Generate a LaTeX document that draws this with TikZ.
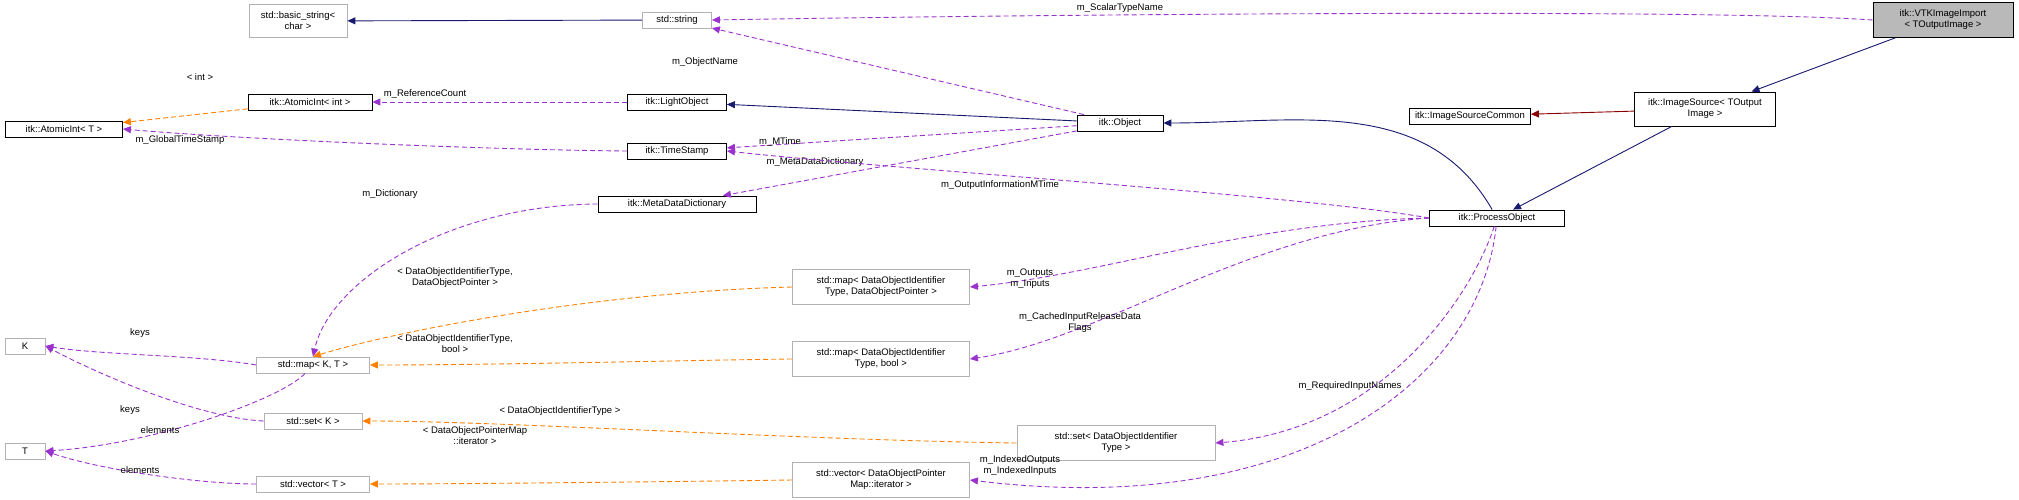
\documentclass[tikz,border=0pt]{standalone}
\usepackage{fontspec}
\setmainfont{Liberation Sans}
\usetikzlibrary{arrows.meta}
\begin{document}
\begin{tikzpicture}[x=1pt, y=-1pt, font=\fontsize{9.5}{11}\selectfont,
    box/.style = {draw=black, line width=0.8pt, inner sep=1pt, align=center, minimum height=16pt},
    ext/.style = {box, draw=gray!60},
    inh/.style = {draw={rgb,255:red,25;green,25;blue,112}, line width=0.9pt, -{Triangle[length=8pt,width=7pt]}},
    priv/.style = {draw={rgb,255:red,139;green,0;blue,0}, line width=0.9pt, -{Triangle[length=8pt,width=7pt]}},
    use/.style = {draw={rgb,255:red,154;green,50;blue,205}, dash pattern=on 5pt off 3pt, line width=0.9pt, -{Triangle[length=8pt,width=7pt]}},
    tmpl/.style = {draw=orange, dash pattern=on 5pt off 3pt, line width=0.9pt, -{Triangle[length=8pt,width=7pt]}},
    lbl/.style = {inner sep=1pt, align=center}]
\useasboundingbox (0,0) rectangle (2019,500);
% classes
\node[ext, minimum width=98pt, minimum height=33pt] (basicstring) at (298,21) {std::basic\_string<\\char >};
\node[ext, minimum width=69pt] (string) at (677,20) {std::string};
\node[box, fill=gray!55, minimum width=140pt, minimum height=35pt] (vtk) at (1943,20) {itk::VTKImageImport\\< TOutputImage >};
\node[box, minimum width=124pt] (atomicint) at (310,102) {itk::AtomicInt< int >};
\node[box, minimum width=99pt] (lightobj) at (677,102) {itk::LightObject};
\node[box, minimum width=117pt] (atomicT) at (64,129) {itk::AtomicInt< T >};
\node[box, minimum width=99pt] (timestamp) at (677,151) {itk::TimeStamp};
\node[box, minimum width=86pt] (object) at (1120,123) {itk::Object};
\node[box, minimum width=121pt] (srccommon) at (1470,116) {itk::ImageSourceCommon};
\node[box, minimum width=141pt, minimum height=34pt] (imgsource) at (1705,109) {itk::ImageSource< TOutput\\Image >};
\node[box, minimum width=158pt] (metadict) at (677,204) {itk::MetaDataDictionary};
\node[box, minimum width=135pt] (procobj) at (1497,218) {itk::ProcessObject};
\node[ext, minimum width=177pt, minimum height=35pt] (mapptr) at (881,287) {std::map< DataObjectIdentifier\\Type, DataObjectPointer >};
\node[ext, minimum width=113pt] (mapKT) at (313,365) {std::map< K, T >};
\node[ext, minimum width=40pt] (K) at (25,346) {K};
\node[ext, minimum width=177pt, minimum height=35pt] (mapbool) at (881,359) {std::map< DataObjectIdentifier\\Type, bool >};
\node[ext, minimum width=98pt] (setK) at (313,421) {std::set< K >};
\node[ext, minimum width=198pt, minimum height=35pt] (setid) at (1116,443) {std::set< DataObjectIdentifier\\Type >};
\node[ext, minimum width=40pt] (T) at (25,451) {T};
\node[ext, minimum width=113pt] (vecT) at (313,484) {std::vector< T >};
\node[ext, minimum width=177pt, minimum height=35pt] (vecmap) at (881,480) {std::vector< DataObjectPointer\\Map::iterator >};
% inheritance
\draw[inh] (string) -- (basicstring);
\draw[inh] (vtk) -- (imgsource);
\draw[priv] (imgsource) -- (srccommon);
\draw[inh] (imgsource) -- (procobj);
\draw[inh] (procobj) to[out=120, in=0] (object);
\draw[inh] (object) -- (lightobj);
% members
\draw[use] (vtk.west) .. controls (1700,8) and (1000,15) .. (string.east);
\node[lbl] at (1120,8) {m\_ScalarTypeName};
\draw[use] (object) -- (string);
\node[lbl] at (705,62) {m\_ObjectName};
\draw[use] (lightobj) -- (atomicint);
\node[lbl] at (425,94) {m\_ReferenceCount};
\draw[tmpl] (atomicint) -- (atomicT);
\node[lbl] at (200,77) {< int >};
\draw[use] (timestamp.west) .. controls (500,150) and (250,140) .. (atomicT.east);
\node[lbl] at (180,140) {m\_GlobalTimeStamp};
\draw[use] (object) -- (timestamp);
\node[lbl] at (780,142) {m\_MTime};
\draw[use] (object) -- (metadict);
\node[lbl] at (815,162) {m\_MetaDataDictionary};
\draw[use] (procobj.west) .. controls (1300,195) and (900,170) .. (timestamp.east);
\node[lbl] at (1000,185) {m\_OutputInformationMTime};
\draw[use] (metadict.west) .. controls (450,205) and (330,280) .. (mapKT.north);
\node[lbl] at (390,194) {m\_Dictionary};
\draw[tmpl] (mapptr.west) .. controls (600,292) and (400,330) .. (mapKT.north);
\node[lbl] at (455,278) {< DataObjectIdentifierType,\\DataObjectPointer >};
\draw[tmpl] (mapbool.west) .. controls (700,360) and (500,365) .. (mapKT.east);
\node[lbl] at (455,344) {< DataObjectIdentifierType,\\bool >};
\draw[use] (procobj.west) .. controls (1250,222) and (1100,275) .. (mapptr.east);
\node[lbl] at (1030,279) {m\_Outputs\\m\_Inputs};
\draw[use] (procobj.west) .. controls (1250,230) and (1100,340) .. (mapbool.east);
\node[lbl] at (1080,323) {m\_CachedInputReleaseData\\Flags};
\draw[use] (procobj) .. controls (1470,300) and (1380,430) .. (setid.east);
\node[lbl] at (1350,386) {m\_RequiredInputNames};
\draw[use] (procobj) .. controls (1480,380) and (1300,520) .. (vecmap.east);
\node[lbl] at (1020,466) {m\_IndexedOutputs\\m\_IndexedInputs};
\draw[use] (mapKT.west) .. controls (200,355) and (100,355) .. (K.east);
\node[lbl] at (140,333) {keys};
\draw[use] (setK.west) .. controls (200,418) and (100,375) .. (K.east);
\node[lbl] at (130,410) {keys};
\draw[use] (mapKT) .. controls (280,400) and (150,445) .. (T.east);
\node[lbl] at (160,430) {elements};
\draw[use] (vecT.west) .. controls (200,484) and (100,470) .. (T.east);
\node[lbl] at (140,470) {elements};
\draw[tmpl] (setid.west) .. controls (800,440) and (500,421) .. (setK.east);
\node[lbl] at (560,411) {< DataObjectIdentifierType >};
\draw[tmpl] (vecmap.west) .. controls (650,482) and (450,484) .. (vecT.east);
\node[lbl] at (475,436) {< DataObjectPointerMap\\::iterator >};
\end{tikzpicture}
\end{document}
